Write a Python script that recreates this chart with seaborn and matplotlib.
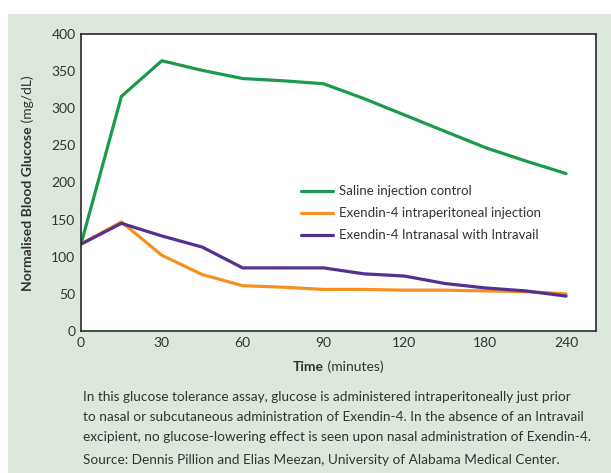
import numpy as np
import pandas as pd
import matplotlib.pyplot as plt
import seaborn as sns
from matplotlib.patches import Rectangle

# time points (minutes) and readings (mg/dL)
times = [0, 15, 30, 45, 60, 75, 90, 105, 120, 150, 180, 210, 240]
saline = [117, 316, 364, 351, 340, 337, 333, 313, 291, 269, 247, 229, 212]
ip_injection = [117, 147, 102, 76, 61, 59, 56, 56, 55, 55, 54, 53, 50]
intranasal = [117, 145, 128, 113, 85, 85, 85, 77, 74, 64, 58, 54, 47]

tick_times = [0, 30, 60, 90, 120, 180, 240]
series_names = ["Saline injection control",
                "Exendin-4 intraperitoneal injection",
                "Exendin-4 Intranasal with Intravail"]
colors = ["#1b9a4b", "#f7901e", "#54308f"]

caption = [
    "In this glucose tolerance assay, glucose is administered intraperitoneally just prior",
    "to nasal or subcutaneous administration of Exendin-4. In the absence of an Intravail",
    "excipient, no glucose-lowering effect is seen upon nasal administration of Exendin-4.",
    "Source: Dennis Pillion and Elias Meezan, University of Alabama Medical Center.",
]

# the time axis is evenly spaced between the labelled ticks
pos = np.interp(times, tick_times, np.arange(len(tick_times)))

df = pd.concat([
    pd.DataFrame({"pos": pos, "glucose": vals, "series": name})
    for name, vals in zip(series_names, [saline, ip_injection, intranasal])
])

sns.set_theme(style="white")
plt.rcParams["font.family"] = ["Lato", "DejaVu Sans"]
txt = "#333333"

fig = plt.figure(figsize=(6.11, 4.73), dpi=100)
fig.patches.append(Rectangle((8 / 611, 0), 1, 459 / 473, transform=fig.transFigure,
                             facecolor="#dde8dc", edgecolor="none", zorder=-10))

ax = fig.add_axes([81 / 611, 142 / 473, 515 / 611, 297 / 473])
ax.set_facecolor("white")
sns.lineplot(data=df, x="pos", y="glucose", hue="series", hue_order=series_names,
             palette=colors, linewidth=2.3, ax=ax, legend=True)

ax.set_xlim(0, 6.37)
ax.set_ylim(0, 400)
ax.set_xticks(np.arange(len(tick_times)))
ax.set_xticklabels([str(t) for t in tick_times])
ax.set_yticks(np.arange(0, 401, 50))
ax.tick_params(length=0, labelsize=10, labelcolor=txt, pad=4)
for s in ax.spines.values():
    s.set_visible(True)
    s.set_color("#2a2a2a")
    s.set_linewidth(1.2)
ax.set_xlabel("")
ax.set_ylabel("")

leg = ax.legend(loc="upper left", bbox_to_anchor=(0.405, 0.53), frameon=False,
                fontsize=9.5, handlelength=2.4, labelspacing=0.75, handletextpad=0.45)
for t in leg.get_texts():
    t.set_color(txt)

# axis titles: bold word followed by regular unit text
fig.canvas.draw()
r = fig.canvas.get_renderer()
xb = fig.text(0.5, (473 - 367) / 473, "Time", fontsize=10, fontweight="bold",
              color=txt, ha="right", va="center")
xr = fig.text(0.5, (473 - 367) / 473, " (minutes)", fontsize=10,
              color=txt, ha="left", va="center")
bb = xb.get_window_extent(r).width + xr.get_window_extent(r).width
cx = 338
xb.set_x((cx - bb / 2 + xb.get_window_extent(r).width) / 611)
xr.set_x((cx - bb / 2 + xb.get_window_extent(r).width) / 611)

yb = fig.text(28 / 611, 0.5, "Normalised Blood Glucose", fontsize=10, fontweight="bold",
              color=txt, rotation=90, ha="center", va="top")
yr = fig.text(28 / 611, 0.5, " (mg/dL)", fontsize=10,
              color=txt, rotation=90, ha="center", va="bottom")
hb = yb.get_window_extent(r).height
hr = yr.get_window_extent(r).height
cy = 473 - 183
split = cy - (hb + hr) / 2 + hb
yb.set_y(split / 473)
yr.set_y(split / 473)

for i, line in enumerate(caption):
    y = [397, 417, 437, 460][i]
    fig.text(83 / 611, (473 - y) / 473, line, fontsize=9.8, color=txt,
             ha="left", va="center")

fig.savefig("out.png", dpi=100)
